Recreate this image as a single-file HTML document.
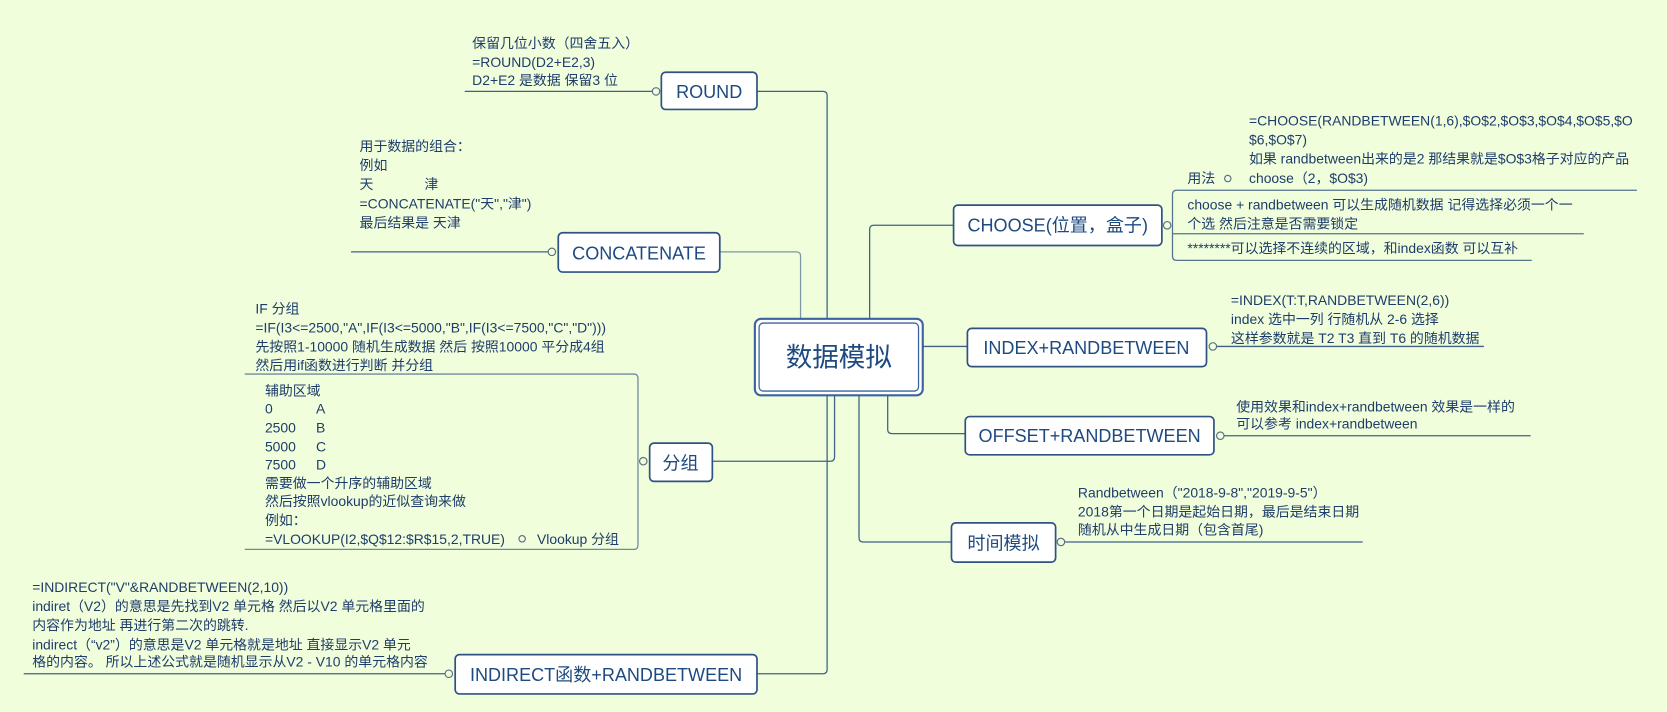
<!DOCTYPE html>
<html><head><meta charset="utf-8"><style>
html,body{margin:0;padding:0;background:#f0fedc;}
svg{display:block}
text{font-family:"Liberation Sans","Noto Sans CJK SC",sans-serif;fill:#1f3d6b;}
.t{font-size:13.1px;}
.n{font-size:17px;fill:#1d4a80;}
.box{fill:#fff;stroke:#2f5282;stroke-width:1.6;}
.ln{stroke:#3f6286;stroke-width:1.2;fill:none;}
.mk{fill:#f0fedc;stroke:#5a6f88;stroke-width:1.1;}
</style></head><body>
<svg width="1667" height="712" viewBox="0 0 1568 670" xmlns="http://www.w3.org/2000/svg">
<rect width="1568" height="670" fill="#f0fedc"/>
<path class="ln" d="M712 86 H774 Q778 86 778 90 V300"/>
<path class="ln" d="M677 237 H749 Q753 237 753 241 V300" style="stroke:#7d97a6"/>
<path class="ln" d="M818 300 V216 Q818 212 822 212 H897"/>
<path class="ln" d="M868 326 H910"/>
<path class="ln" d="M835 372 V404 Q835 408 839 408 H908"/>
<path class="ln" d="M808 372 V506 Q808 510 812 510 H895"/>
<path class="ln" d="M785 372 V430 Q785 434 781 434 H670"/>
<path class="ln" d="M778 372 V630 Q778 634 774 634 H712"/>
<path class="ln" d="M437 86 H617"/>
<path class="ln" d="M330 237 H519"/>
<path class="ln" d="M22 634 H422"/>
<path class="ln" d="M230 352 H596 Q600 352 600 356 V513 Q600 517 596 517 H230" style="stroke:#6f8a9c"/>
<path class="ln" d="M1540 179 H1107 Q1103 179 1103 183 V241 Q1103 245 1107 245 H1441 M1103 220 H1490" style="stroke:#56738e"/>
<path class="ln" d="M1141 326 H1396"/>
<path class="ln" d="M1148 410 H1440"/>
<path class="ln" d="M998 510 H1282"/>
<rect class="box" x="710" y="300" width="158" height="72" rx="6" style="stroke:#3a63a0;stroke-width:2"/>
<rect x="714" y="304" width="150" height="64" rx="4" fill="none" stroke="#3a63a0" stroke-width="1.2"/>
<text x="789" y="345" text-anchor="middle" style="font-size:25px;fill:#1d4a80">数据模拟</text>
<rect class="box" x="622" y="68" width="90" height="35" rx="4"/><text class="n" x="667" y="92" text-anchor="middle">ROUND</text>
<rect class="box" x="525" y="219" width="152" height="37" rx="4"/><text class="n" x="601" y="244" text-anchor="middle">CONCATENATE</text>
<rect class="box" x="611" y="417" width="59" height="36" rx="4"/><text class="n" x="640" y="442" text-anchor="middle">分组</text>
<rect class="box" x="428" y="616" width="284" height="37" rx="4"/><text class="n" x="570" y="641" text-anchor="middle">INDIRECT函数+RANDBETWEEN</text>
<rect class="box" x="897" y="193" width="196" height="38" rx="4"/><text class="n" x="995" y="218" text-anchor="middle">CHOOSE(位置，盒子)</text>
<rect class="box" x="910" y="309" width="225" height="36" rx="4"/><text class="n" x="1022" y="333" text-anchor="middle">INDEX+RANDBETWEEN</text>
<rect class="box" x="908" y="392" width="234" height="36" rx="4"/><text class="n" x="1025" y="416" text-anchor="middle">OFFSET+RANDBETWEEN</text>
<rect class="box" x="895" y="492" width="98" height="37" rx="4"/><text class="n" x="944" y="517" text-anchor="middle">时间模拟</text>
<circle class="mk" cx="617" cy="86" r="3.5"/><circle class="mk" cx="519" cy="237" r="3.5"/>
<circle class="mk" cx="605" cy="434" r="3.5"/><circle class="mk" cx="422" cy="634" r="3.5"/>
<circle class="mk" cx="1098" cy="212" r="3.5"/><circle class="mk" cx="1141" cy="326" r="3.5"/>
<circle class="mk" cx="1148" cy="410" r="3.5"/><circle class="mk" cx="998" cy="510" r="3.5"/>
<circle class="mk" cx="1155" cy="168" r="3"/><circle class="mk" cx="491" cy="507" r="3"/>
<g class="t">
<text x="444" y="45">保留几位小数（四舍五入）</text>
<text x="444" y="63">=ROUND(D2+E2,3)</text>
<text x="444" y="80">D2+E2 是数据 保留3 位</text>
<text x="338" y="142">用于数据的组合：</text>
<text x="338" y="160">例如</text>
<text x="338" y="178">天</text><text x="399" y="178">津</text>
<text x="338" y="196">=CONCATENATE("天","津")</text>
<text x="338" y="214">最后结果是  天津</text>
<text x="240" y="295">IF 分组</text>
<text x="240" y="313">=IF(I3&lt;=2500,"A",IF(I3&lt;=5000,"B",IF(I3&lt;=7500,"C","D")))</text>
<text x="240" y="331">先按照1-10000 随机生成数据 然后 按照10000 平分成4组</text>
<text x="240" y="348">然后用if函数进行判断 并分组</text>
<text x="249" y="372">辅助区域</text>
<text x="249" y="389">0</text><text x="297" y="389">A</text>
<text x="249" y="407">2500</text><text x="297" y="407">B</text>
<text x="249" y="425">5000</text><text x="297" y="425">C</text>
<text x="249" y="442">7500</text><text x="297" y="442">D</text>
<text x="249" y="459">需要做一个升序的辅助区域</text>
<text x="249" y="476">然后按照vlookup的近似查询来做</text>
<text x="249" y="494">例如：</text>
<text x="249" y="512">=VLOOKUP(I2,$Q$12:$R$15,2,TRUE)</text>
<text x="505" y="512">Vlookup 分组</text>
<text x="30" y="557">=INDIRECT("V"&amp;RANDBETWEEN(2,10))</text>
<text x="30" y="575">indiret（V2）的意思是先找到V2 单元格 然后以V2 单元格里面的</text>
<text x="30" y="593">内容作为地址 再进行第二次的跳转.</text>
<text x="30" y="611">indirect（“v2”）的意思是V2 单元格就是地址 直接显示V2 单元</text>
<text x="30" y="627">格的内容。 所以上述公式就是随机显示从V2 - V10 的单元格内容</text>
<text x="1175" y="118">=CHOOSE(RANDBETWEEN(1,6),$O$2,$O$3,$O$4,$O$5,$O</text>
<text x="1175" y="136">$6,$O$7)</text>
<text x="1175" y="154">如果 randbetween出来的是2 那结果就是$O$3格子对应的产品</text>
<text x="1175" y="172">choose（2，$O$3)</text>
<text x="1117" y="172">用法</text>
<text x="1117" y="197">choose + randbetween 可以生成随机数据 记得选择必须一个一</text>
<text x="1117" y="215">个选 然后注意是否需要锁定</text>
<text x="1117" y="238">********可以选择不连续的区域，和index函数 可以互补</text>
<text x="1158" y="287">=INDEX(T:T,RANDBETWEEN(2,6))</text>
<text x="1158" y="305">index 选中一列 行随机从 2-6 选择</text>
<text x="1158" y="323">这样参数就是 T2 T3 直到 T6 的随机数据</text>
<text x="1163" y="387">使用效果和index+randbetween 效果是一样的</text>
<text x="1163" y="403">可以参考 index+randbetween</text>
<text x="1014" y="468">Randbetween（"2018-9-8","2019-9-5"）</text>
<text x="1014" y="486">2018第一个日期是起始日期，最后是结束日期</text>
<text x="1014" y="503">随机从中生成日期（包含首尾)</text>
</g>
</svg>
</body></html>
